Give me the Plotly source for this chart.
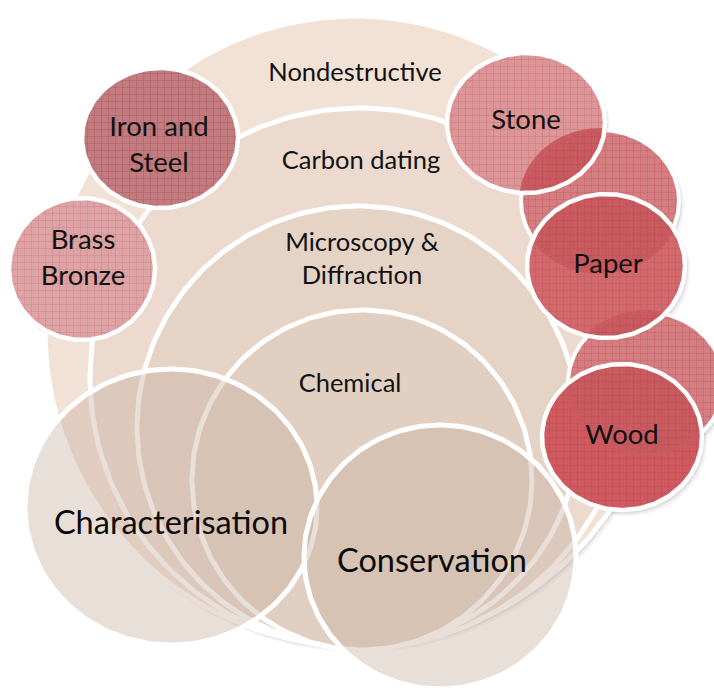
import numpy as np
import plotly.graph_objects as go

# ---------------- data (labels) ----------------
nested_labels = ["Nondestructive", "Carbon dating", "Microscopy &<br>Diffraction", "Chemical"]
focus_labels = ["Characterisation", "Conservation"]
material_labels = ["Iron and<br>Steel", "Brass<br>Bronze", "Stone", "Paper", "Wood"]

# ---------------- layout geometry (pixels: cx, cy, rx, ry) ----------------
nested_geom = [(355, 331, 310, 315), (360, 378, 270, 270), (358, 427, 221, 221), (362, 480, 170, 170)]
nested_fill = ["#F2E1D5", "#EBDACD", "#E5D3C6", "#E1CFC2"]
nested_text_pos = [(355, 75), (361, 163), (362, 261), (350, 386)]

focus_geom = [(171, 507, 146, 138), (440, 557, 136, 132)]
focus_fill = "rgba(200,178,162,0.42)"
focus_text_pos = [(171, 526), (432, 564)]

backing_geom = [(600, 201, 79, 71), (646, 383, 78, 71)]
backing_fill, backing_grid = "#D57E81", "#BE5358"
material_geom = [(160, 138, 78, 70), (82, 269, 73, 71), (526, 123, 79, 70), (606, 266, 79, 72), (622, 437, 80, 73)]
material_fill = ["#C27C7F", "#DEA3A4", "#DC9698", "#D1696D", "#CF5B60"]
material_grid = ["#A04C52", "#C8767A", "#C86468", "#BD4A51", "#BC4047"]
material_text_pos = [(159, 147), (83, 260), (526, 122), (608, 266), (622, 437)]
# (backing index, material index) pairs whose overlap is drawn darker
overlaps = [(0, 2), (0, 3), (1, 3), (1, 4)]
overlap_fill, overlap_grid = "#C95A5F", "#B3434A"

FONT = "Lato"


def ellipse(cx, cy, rx, ry, n=240):
    t = np.linspace(0, 2 * np.pi, n)
    return cx + rx * np.cos(t), cy + ry * np.sin(t)


def inside(x, y, g):
    cx, cy, rx, ry = g
    return ((x - cx) / rx) ** 2 + ((y - cy) / ry) ** 2 <= 1.0


def intersection(g1, g2):
    x1, y1 = ellipse(*g1, n=720)
    x2, y2 = ellipse(*g2, n=720)
    m1 = inside(x1, y1, g2)
    m2 = inside(x2, y2, g1)
    xs = np.concatenate([x1[m1], x2[m2]])
    ys = np.concatenate([y1[m1], y2[m2]])
    if len(xs) < 3:
        return None, None
    ang = np.arctan2(ys - ys.mean(), xs - xs.mean())
    o = np.argsort(ang)
    xs, ys = xs[o], ys[o]
    return np.append(xs, xs[0]), np.append(ys, ys[0])


def pattern(col):
    return dict(shape="+", size=7, solidity=0.13, fgcolor=col, fgopacity=0.75, fillmode="overlay")


fig = go.Figure()

# soft shadows (drawn first so they only show on the white background)
for (cx, cy, rx, ry) in [nested_geom[0]] + backing_geom + material_geom:
    for off, a in [(5, 0.06), (3, 0.10)]:
        x, y = ellipse(cx + off - 1, cy + off, rx + 1, ry + 1)
        fig.add_trace(go.Scatter(x=x, y=y, mode="lines", fill="toself",
                                 fillcolor=f"rgba(60,50,45,{a})", line=dict(width=0),
                                 hoverinfo="skip", showlegend=False))

# nested target circles
for g, col in zip(nested_geom, nested_fill):
    x, y = ellipse(*g)
    fig.add_trace(go.Scatter(x=x, y=y, mode="lines", fill="toself", fillcolor=col,
                             line=dict(color="white", width=5), hoverinfo="skip", showlegend=False))

# backing red circles
for g in backing_geom:
    x, y = ellipse(*g)
    fig.add_trace(go.Scatter(x=x, y=y, mode="lines", fill="toself", fillcolor=backing_fill,
                             fillpattern=pattern(backing_grid),
                             line=dict(color="white", width=4), hoverinfo="skip", showlegend=False))

# material circles (fills)
for g, col, gcol in zip(material_geom, material_fill, material_grid):
    x, y = ellipse(*g)
    fig.add_trace(go.Scatter(x=x, y=y, mode="lines", fill="toself", fillcolor=col,
                             fillpattern=pattern(gcol),
                             line=dict(color="white", width=0), hoverinfo="skip", showlegend=False))

# darker overlap lenses
for bi, mi in overlaps:
    x, y = intersection(backing_geom[bi], material_geom[mi])
    if x is None:
        continue
    fig.add_trace(go.Scatter(x=x, y=y, mode="lines", fill="toself", fillcolor=overlap_fill,
                             fillpattern=pattern(overlap_grid),
                             line=dict(color=overlap_fill, width=4), hoverinfo="skip", showlegend=False))

# material circle borders
for g in material_geom:
    x, y = ellipse(*g)
    fig.add_trace(go.Scatter(x=x, y=y, mode="lines", line=dict(color="white", width=4.5),
                             hoverinfo="skip", showlegend=False))

# focus circles (translucent)
for g in focus_geom:
    x, y = ellipse(*g)
    fig.add_trace(go.Scatter(x=x, y=y, mode="lines", fill="toself", fillcolor=focus_fill,
                             line=dict(color="white", width=5), hoverinfo="skip", showlegend=False))

# labels
fig.add_trace(go.Scatter(x=[p[0] for p in nested_text_pos], y=[p[1] for p in nested_text_pos],
                         mode="text", text=nested_labels, textposition="middle center",
                         textfont=dict(family=FONT, size=25.5, color="#111111"),
                         hoverinfo="skip", showlegend=False))
fig.add_trace(go.Scatter(x=[p[0] for p in material_text_pos], y=[p[1] for p in material_text_pos],
                         mode="text", text=material_labels, textposition="middle center",
                         textfont=dict(family=FONT, size=27.5, color="#111111"),
                         hoverinfo="skip", showlegend=False))
fig.add_trace(go.Scatter(x=[p[0] for p in focus_text_pos], y=[p[1] for p in focus_text_pos],
                         mode="text", text=focus_labels, textposition="middle center",
                         textfont=dict(family=FONT, size=32.5, color="#0A0A0A"),
                         hoverinfo="skip", showlegend=False))

fig.update_layout(
    width=714, height=690, autosize=False,
    margin=dict(l=0, r=0, t=0, b=0),
    paper_bgcolor="white", plot_bgcolor="white",
    xaxis=dict(range=[0, 714], visible=False, fixedrange=True),
    yaxis=dict(range=[690, 0], visible=False, fixedrange=True),
    showlegend=False,
)

fig.write_html("out.html", config={"displayModeBar": False},
               post_script="document.body.style.margin='0';document.body.style.overflow='hidden';")
